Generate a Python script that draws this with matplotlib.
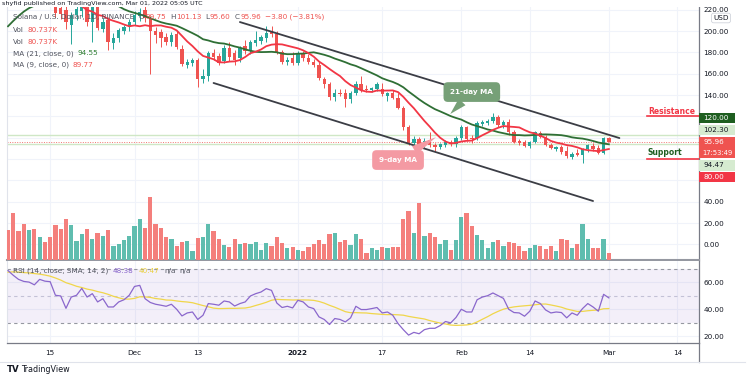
import matplotlib
matplotlib.use("Agg")
import matplotlib.pyplot as plt
from matplotlib.patches import Rectangle
from matplotlib.lines import Line2D
import numpy as np
import pandas as pd

W, H = 750, 375

# SOL/USD daily candles, Binance, 2021-11-07 .. 2022-03-01
start_date = pd.Timestamp("2021-11-07")
opens = [260, 268, 262, 250, 245, 248, 238, 242, 237, 231,
         222, 220, 206, 215, 219, 224, 208, 225, 202, 210,
         189, 193, 200, 204, 208, 214, 220, 212, 200, 199,
         194, 190, 197, 183, 168, 170, 173, 155, 158, 179,
         177, 172, 184, 179, 175, 186, 181, 189, 191, 193,
         200, 197, 180, 171, 175, 170, 179, 175, 171, 168,
         155, 150, 138, 142, 142, 136, 142, 150, 146, 145,
         146, 146, 139, 142, 137, 128, 110, 95, 99, 93,
         98, 93, 91, 93, 96, 94, 100, 110, 100, 100,
         113, 114, 116, 119, 112, 115, 105, 97, 96, 92,
         96, 104, 101, 93, 89, 91, 88, 82, 86, 84,
         89, 92, 90, 86, 99.75]
highs = [262, 270, 264, 253, 252, 250, 246, 245, 240, 233,
         228, 226, 218, 224, 226, 227, 228, 228, 212, 213,
         198, 203, 206, 211, 219, 222, 223, 214, 204, 202,
         198, 199, 200, 187, 174, 175, 175, 164, 181, 183,
         179, 187, 190, 182, 186, 192, 192, 200, 196, 205,
         205, 200, 182, 176, 180, 181, 181, 178, 174, 171,
         157, 152, 146, 146, 146, 144, 153, 158, 149, 148,
         152, 151, 143, 145, 142, 130, 112, 102, 101, 100,
         105, 95, 95, 98, 98, 102, 112, 111, 103, 116,
         117, 118, 123, 121, 117, 118, 107, 99, 98, 97,
         106, 106, 103, 95, 92, 93, 92, 87, 89, 90,
         94, 95, 93, 101, 101.13]
lows = [250, 258, 246, 240, 242, 240, 236, 234, 228, 213,
        211, 202, 188, 210, 213, 205, 190, 201, 199, 182,
        183, 190, 197, 200, 206, 209, 208, 160, 189, 185,
        187, 186, 183, 167, 165, 167, 148, 151, 153, 173,
        168, 170, 172, 168, 171, 178, 178, 186, 188, 190,
        194, 178, 169, 168, 168, 168, 172, 169, 166, 154,
        147, 135, 134, 139, 129, 133, 140, 143, 143, 143,
        144, 139, 134, 136, 127, 107, 93, 92, 85, 90,
        91, 88, 89, 91, 92, 91, 98, 97, 95, 98,
        111, 112, 114, 110, 109, 103, 95, 93, 91, 90,
        95, 100, 92, 89, 88, 85, 81, 80, 83, 76,
        87, 88, 85, 85, 95.60]
closes = [255, 262, 250, 245, 248, 244, 242, 237, 231, 217,
          216, 208, 215, 221, 223, 208, 225, 203, 208, 190,
          193, 201, 204, 208, 215, 218, 212, 200, 196, 193,
          190, 196, 185, 169, 171, 173, 155, 158, 179, 176,
          170, 184, 176, 173, 184, 181, 190, 192, 194, 198,
          197, 180, 171, 173, 170, 179, 175, 171, 168, 156,
          150, 138, 142, 141, 136, 142, 150, 145, 145, 147,
          150, 141, 142, 137, 128, 110, 95, 99, 93, 97,
          93, 91, 94, 96, 94, 100, 110, 99, 99, 114,
          115, 116, 119, 112, 115, 105, 96, 95, 92, 96,
          105, 101, 93, 90, 91, 87, 83, 85, 84, 89,
          93, 89, 86, 99.75, 95.96]
# volume in thousands
volumes_k = [394, 619, 381, 484, 394, 404, 304, 229, 304, 461,
             404, 538, 461, 246, 340, 404, 269, 363, 313, 394,
             179, 215, 260, 313, 448, 538, 417, 842, 471, 417,
             304, 269, 179, 233, 246, 116, 291, 296, 475, 381,
             282, 192, 169, 269, 206, 223, 206, 233, 134, 223,
             183, 296, 223, 156, 169, 134, 112, 169, 215, 260,
             215, 340, 358, 229, 260, 192, 340, 273, 81, 161,
             125, 169, 148, 169, 169, 551, 654, 358, 761, 313,
             358, 296, 215, 260, 125, 260, 565, 627, 448, 327,
             260, 148, 229, 260, 183, 237, 223, 183, 116, 161,
             192, 183, 139, 179, 112, 269, 260, 161, 206, 484,
             269, 148, 148, 282, 80.737]
# closes of the 20 days before the first candle (needed for the moving averages)
pre_closes = [156, 153, 159, 179, 197, 201, 195, 202, 199, 185,
              197, 203, 200, 202, 205, 218, 236, 248, 253, 250]
rsi = [68.5, 65, 62, 60.5, 60, 58, 62, 60.7, 60.3, 50.3,
       49.8, 40.7, 49, 50.3, 55.4, 49, 51.5, 45.4, 47.8, 41.7,
       41.7, 45.4, 47, 50.3, 56.8, 57.6, 47.8, 45, 43.7, 43,
       42.2, 43.7, 40, 35.1, 37.3, 38, 32.5, 35.6, 44.2, 43.7,
       43, 46.1, 45.4, 42.4, 44.2, 45.4, 49.8, 51.5, 52.7, 55.2,
       53.9, 44.6, 41.3, 42.2, 41, 46.6, 45.4, 41.7, 40.5, 34.4,
       32.5, 28.8, 33.2, 32.5, 30.7, 33.7, 42.2, 39.8, 39.8, 40.5,
       41.3, 37.3, 38, 35.6, 29.5, 25, 21, 23, 22, 25,
       26, 26, 28, 31, 30, 34, 40, 38, 38, 47,
       49, 50, 52, 50, 48, 40, 37.6, 37.3, 34.9, 38.6,
       46.1, 44.2, 39.5, 37.3, 38, 37.6, 33.7, 37.3, 35.6, 40.5,
       44.2, 41.7, 38.6, 51, 48.38]
pre_rsi = [62, 64, 66, 63, 65, 68, 70, 72, 69, 71, 68, 66, 70]

tick_dates = ["2021-11-15", "2021-12-01", "2021-12-13", "2022-01-01", "2022-01-17",
              "2022-02-01", "2022-02-14", "2022-03-01", "2022-03-14"]
tick_labels = ["15", "Dec", "13", "2022", "17", "Feb", "14", "Mar", "14"]

# channel drawn on the chart: (date, price) end points
upper_channel = [("2021-12-21", 208.4), ("2022-03-03", 99.7)]
lower_channel = [("2021-12-16", 151.3), ("2022-02-26", 40.7)]
resistance, support = 120.0, 80.0
level_hi, level_lo, last_price = 102.30, 94.47, 95.96

UP, DOWN = "#26a69a", "#ef5350"
VOL_UP, VOL_DOWN = "#5fbdaf", "#f47f7c"
GRID = "#f0f3fa"
TXT = "#131722"
GRAY = "#50535e"
FS = 5.2


def day(s):
    return (pd.Timestamp(s) - start_date).days


def fx(px):
    return px / W


def fy(py):
    return 1 - py / H


n = len(closes)
x = np.arange(n)
o, h, l, c = map(np.array, (opens, highs, lows, closes))
up = c >= o
cols = np.where(up, UP, DOWN)

all_closes = pd.Series(pre_closes + closes)
ma21 = all_closes.rolling(21).mean().to_numpy()[-n:]
ma9 = all_closes.rolling(9).mean().to_numpy()[-n:]
rsi_sma = pd.Series(pre_rsi + rsi).rolling(14).mean().to_numpy()[-n:]

fig = plt.figure(figsize=(W / 100, H / 100), dpi=100)
renderer = fig.canvas.get_renderer()
xlim = (-0.19, 131.1)
xt = [day(d) for d in tick_dates]

# ---- price pane
ax = fig.add_axes([fx(7), fy(259.5), fx(699) - fx(7), fy(7) - fy(259.5)])
ax.set_xlim(*xlim)
ax.set_ylim(-14.1, 222.5)
for p in range(0, 221, 20):
    ax.axhline(p, color=GRID, lw=0.8, zorder=0)
for t in xt:
    ax.axvline(t, color=GRID, lw=0.8, zorder=0)

ax.axhline(level_hi, color="#cfe7c6", lw=1.0, zorder=1)
ax.axhline(level_lo, color="#cfe7c6", lw=1.0, zorder=1)
ax.axhline(last_price, color="#ef5350", lw=0.7, ls=(0, (1, 1.5)), alpha=0.8, zorder=1)

ax.vlines(x, l, h, colors=cols, lw=0.7, zorder=3)
ax.bar(x, np.maximum(np.abs(c - o), 0.5), bottom=np.minimum(o, c), width=0.64,
       color=cols, zorder=4, linewidth=0)

ax.plot(x, ma21, color="#2f6f35", lw=1.3, zorder=5)
ax.plot(x, ma9, color="#f23645", lw=1.3, zorder=5)

for line in (upper_channel, lower_channel):
    ax.plot([day(line[0][0]), day(line[1][0])], [line[0][1], line[1][1]],
            color="#3b3d45", lw=1.3, zorder=6, solid_capstyle="round")

ax.plot([121.2, 131.1], [resistance, resistance], color="#f23645", lw=1.2, zorder=6)
ax.plot([121.2, 131.1], [support, support], color="#f23645", lw=1.2, zorder=6)
ax.text(121.4, 121.8, "Resistance", color="#f23645", fontsize=5.5, fontweight="bold",
        va="baseline", ha="left", zorder=7)
ax.text(121.4, 83.6, "Support", color="#1e5e20", fontsize=5.5, fontweight="bold",
        va="baseline", ha="left", zorder=7)

ax.annotate("21-day MA", xy=(83.9, 122.2), xytext=(88.0, 142.8), color="white",
            fontsize=FS, fontweight="bold", ha="center", va="center", zorder=8,
            bbox=dict(boxstyle="round,pad=0.95,rounding_size=0.6", fc="#76a077", ec="none"),
            arrowprops=dict(arrowstyle="wedge,tail_width=1.3,shrink_factor=0.5",
                            fc="#76a077", ec="none", shrinkA=0, shrinkB=0))
ax.annotate("9-day MA", xy=(81.2, 100.5), xytext=(74.0, 79.1), color="white",
            fontsize=FS, fontweight="bold", ha="center", va="center", zorder=8,
            bbox=dict(boxstyle="round,pad=0.95,rounding_size=0.6", fc="#f49aa3", ec="none"),
            arrowprops=dict(arrowstyle="wedge,tail_width=1.3,shrink_factor=0.5",
                            fc="#f49aa3", ec="none", shrinkA=0, shrinkB=0))

price_ticks = [0, 20, 40, 140, 160, 180, 200, 220]
ax.yaxis.tick_right()
ax.set_yticks(price_ticks)
ax.set_yticklabels([f"{v:.2f}" for v in price_ticks])
ax.tick_params(axis="y", length=0, pad=3, labelsize=FS, labelcolor=TXT)
ax.set_xticks([])
ax.spines["top"].set_visible(False)
ax.spines["left"].set_color("#e0e3eb")
ax.spines["left"].set_linewidth(0.8)
ax.spines["right"].set_color("#787b86")
ax.spines["right"].set_linewidth(0.9)
ax.spines["bottom"].set_color("#9598a1")
ax.spines["bottom"].set_linewidth(1.5)

# ---- volume overlay
axv = fig.add_axes(ax.get_position(), sharex=ax)
axv.patch.set_visible(False)
axv.set_ylim(0, 3396)
axv.bar(x, volumes_k, width=0.8, color=np.where(up, VOL_UP, VOL_DOWN), linewidth=0, zorder=2)
axv.axis("off")

# ---- RSI pane
axr = fig.add_axes([fx(7), fy(342.7), fx(699) - fx(7), fy(260.5) - fy(342.7)])
axr.set_xlim(*xlim)
axr.set_ylim(15.4, 75.9)
for p in (20, 40, 60):
    axr.axhline(p, color=GRID, lw=0.8, zorder=0)
for t in xt:
    axr.axvline(t, color=GRID, lw=0.8, zorder=0)
axr.axhspan(30, 70, color="#7e57c2", alpha=0.09, lw=0, zorder=1)
axr.axhline(70, color="#9598a1", lw=0.8, ls=(0, (3, 3)), zorder=2)
axr.axhline(30, color="#9598a1", lw=0.8, ls=(0, (3, 3)), zorder=2)
axr.axhline(50, color="#c3c1d6", lw=0.8, ls=(0, (3, 3)), zorder=2)
axr.plot(x, rsi_sma, color="#f0d64a", lw=0.9, zorder=3)
axr.plot(x, rsi, color="#8a67cc", lw=0.9, zorder=4)

axr.yaxis.tick_right()
axr.set_yticks([20, 40, 60])
axr.set_yticklabels(["20.00", "40.00", "60.00"])
axr.set_xticks(xt)
axr.set_xticklabels(tick_labels)
for lab in axr.get_xticklabels():
    if lab.get_text() == "2022":
        lab.set_fontweight("bold")
axr.tick_params(axis="y", length=0, pad=3, labelsize=FS, labelcolor=TXT)
axr.tick_params(axis="x", length=0, pad=5, labelsize=FS, labelcolor=TXT)
axr.spines["top"].set_visible(False)
axr.spines["left"].set_color("#e0e3eb")
axr.spines["left"].set_linewidth(0.8)
axr.spines["right"].set_color("#787b86")
axr.spines["right"].set_linewidth(0.9)
axr.spines["bottom"].set_color("#787b86")
axr.spines["bottom"].set_linewidth(0.9)

# ---- price-axis tags (pixel layout)
TAG_R = 735
tags = [("120.00", 112.5, 122.5, "#1e5e20", "white"),
        ("102.30", 124.5, 135, "#d6ebd0", TXT),
        ("94.47", 160, 170.5, "#d6ebd0", TXT),
        ("80.00", 171.5, 182, "#f23645", "white")]
for txt, top, bot, bg, fg in tags:
    fig.add_artist(Rectangle((fx(699), fy(bot)), fx(TAG_R) - fx(699), fy(top) - fy(bot),
                             transform=fig.transFigure, fc=bg, ec="none", zorder=4))
    fig.text(fx(703), fy((top + bot) / 2), txt, color=fg, fontsize=FS, va="center", zorder=5)
fig.add_artist(Rectangle((fx(699), fy(158)), fx(TAG_R) - fx(699), fy(137) - fy(158),
                         transform=fig.transFigure, fc="#ef5350", ec="none", zorder=4))
fig.text(fx(703), fy(142.5), f"{last_price:.2f}", color="white", fontsize=FS, va="center", zorder=5)
fig.text(fx(717), fy(152.5), "17:53:49", color="white", fontsize=4.9, ha="center",
         va="center", zorder=5)
fig.text(fx(721), fy(18), "USD", color=TXT, fontsize=FS, ha="center", va="center", zorder=5,
         bbox=dict(boxstyle="round,pad=0.25,rounding_size=0.3", fc="white", ec="#d1d4dc", lw=0.6))


# ---- legends (segments placed one after another)
def text_row(x0, y, parts):
    xpos = fx(x0)
    for s, col, gap in parts:
        t = fig.text(xpos, fy(y), s, color=col, fontsize=FS, va="center", zorder=5)
        bb = t.get_window_extent(renderer)
        xpos = (bb.x1 + gap) / W


text_row(12.7, 16.7, [("Solana / U.S. Dollar, 1D, BINANCE", GRAY, 5),
                      ("O", GRAY, 0.6), ("99.75", DOWN, 4),
                      ("H", GRAY, 0.6), ("101.13", DOWN, 4),
                      ("L", GRAY, 0.6), ("95.60", DOWN, 4),
                      ("C", GRAY, 0.6), ("95.96", DOWN, 4),
                      ("\u22123.80 (\u22123.81%)", DOWN, 0)])
for yy in (30, 41.7):
    text_row(12.7, yy, [("Vol", GRAY, 4), ("80.737K", DOWN, 0)])
text_row(12.7, 53.3, [("MA (21, close, 0)", GRAY, 4), ("94.55", "#2f7d32", 0)])
text_row(12.7, 65, [("MA (9, close, 0)", GRAY, 4), ("89.77", DOWN, 0)])
text_row(12.7, 270.7, [("RSI (14, close, SMA, 14, 2)", GRAY, 5),
                       (f"{rsi[-1]:.2f}", "#8a67cc", 5),
                       ("40.47", "#e9cf3a", 5),
                       ("n/a", GRAY, 4), ("n/a", GRAY, 0)])

# ---- frame bits
fig.add_artist(Line2D([fx(699), fx(699)], [fy(342.7), fy(362)], transform=fig.transFigure,
                      color="#787b86", lw=0.9))
fig.add_artist(Line2D([fx(0), fx(745)], [fy(362), fy(362)], transform=fig.transFigure,
                      color="#e0e3eb", lw=0.8))
fig.add_artist(Rectangle((0, fy(6.5)), 1, fy(0) - fy(6.5), transform=fig.transFigure,
                         fc="white", ec="none", zorder=6))
fig.text(fx(2), fy(3.4), "shyfid published on TradingView.com, Mar 01, 2022 05:05 UTC",
         color=TXT, fontsize=4.6, va="center", zorder=7)
fig.text(fx(7), fy(369), "TV", color=TXT, fontsize=6.2, fontweight="bold", va="center", zorder=7)
fig.text(fx(21), fy(369), "TradingView", color=TXT, fontsize=5.8, va="center", zorder=7)

fig.savefig("out.png", dpi=100)
